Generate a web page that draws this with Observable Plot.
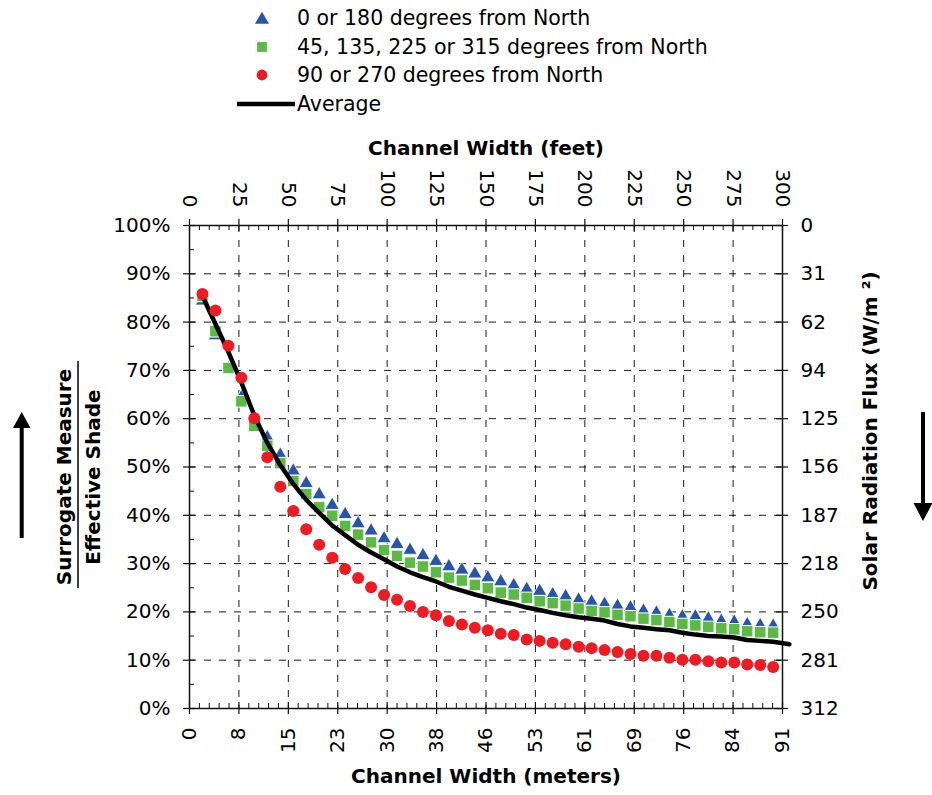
<!DOCTYPE html>
<html><head><meta charset="utf-8">
<script src="https://cdn.jsdelivr.net/npm/d3@7"></script>
<script src="https://cdn.jsdelivr.net/npm/@observablehq/plot@0.6"></script>
<style>
html,body{margin:0;padding:0;background:#fff;}
body{width:932px;height:795px;overflow:hidden;font-family:"DejaVu Sans",sans-serif;color:#000;}
#wrap{position:relative;width:932px;height:795px;}
#legend{position:relative;height:120px;width:932px;}
.row{position:absolute;left:0;height:28px;width:932px;}
.row svg{position:absolute;left:232px;top:0;overflow:visible;}
.row span{position:absolute;left:297px;top:0;line-height:28px;font-size:20.5px;white-space:nowrap;}
#deco{position:absolute;left:0;top:0;pointer-events:none;}
</style></head><body>
<div id="wrap"><div id="legend"></div><div id="chart"></div><svg id="deco" width="932" height="795"></svg></div>
<script>
// ---- data ----
const widthMeters = [2,4,6,8,10,12,14,16,18,20,22,24,26,28,30,32,34,36,38,40,42,44,46,48,50,52,54,56,58,60,62,64,66,68,70,72,74,76,78,80,82,84,86,88,90];
const shade0or180 = [84.8,77.6,70.8,64.8,60.7,56.5,52.9,49.6,47.0,44.7,42.5,40.6,38.7,37.2,35.6,34.4,33.2,32.1,30.9,29.8,29.1,28.3,27.5,26.7,25.9,25.1,24.7,24.0,23.6,22.9,22.5,22.0,21.6,21.3,20.6,20.2,19.7,19.4,19.4,19.0,18.5,18.3,17.8,17.6,17.5];
const shade45diag = [85.4,78.1,70.5,63.6,58.5,54.4,50.8,47.1,44.4,41.7,39.9,37.8,36.0,34.4,32.8,31.6,30.2,29.4,28.2,27.1,26.5,25.6,24.9,24.0,23.6,22.9,22.2,21.8,21.3,20.7,20.2,19.9,19.4,19.1,18.6,18.3,17.9,17.5,17.2,16.9,16.6,16.4,16.0,15.8,15.7];
const shade90or270 = [85.8,82.4,75.1,68.5,60.1,52.0,45.9,40.9,37.1,33.9,31.2,28.9,27.0,25.1,23.5,22.5,21.2,20.0,19.3,18.1,17.4,16.7,16.2,15.5,15.2,14.3,14.0,13.6,13.3,12.8,12.5,12.1,11.7,11.3,10.9,10.9,10.5,10.1,10.1,9.8,9.5,9.5,9.1,9.0,8.6];
const avgWidthMeters = [2,4,6,8,10,12,14,16,18,20,22,24,26,28,30,32,34,36,38,40,42,44,46,48,50,52,54,56,58,60,62,64,66,68,70,72,74,76,78,80,82,84,86,88,90,92.5];
const shadeAverage = [85.4,79.6,73.8,67.5,60.6,55.0,50.4,46.5,43.2,40.5,37.9,35.9,33.9,32.3,30.9,29.4,28.2,27.2,26.3,25.2,24.4,23.6,22.9,22.2,21.6,20.9,20.4,19.8,19.3,18.9,18.6,18.2,17.5,17.0,16.7,16.4,16.2,15.7,15.3,15.0,14.9,14.7,14.2,14.0,13.8,13.3];

const seriesNames = ["0 or 180 degrees from North","45, 135, 225 or 315 degrees from North","90 or 270 degrees from North","Average"];
const seriesColors = ["#2A54A6","#5DB946","#ED1C24","#000000"];

const feetTicks = [0,25,50,75,100,125,150,175,200,225,250,275,300];
const meterTickLabels = ["0","8","15","23","30","38","46","53","61","69","76","84","91"];
const percentTicks = [0,10,20,30,40,50,60,70,80,90,100];
const fluxTickLabels = ["312","281","250","218","187","156","125","94","62","31","0"];

// ---- build ----
const FT = 0.3048;
const majorM = feetTicks.map(f => f * FT);
const minorM = d3.range(0, 301, 5).filter(f => f % 25 !== 0).map(f => f * FT);
const minorPct = d3.range(5, 100, 10);

const blueData = widthMeters.map((m, i) => ({m, v: shade0or180[i]}));
const greenData = widthMeters.map((m, i) => ({m, v: shade45diag[i]}));
const redData = widthMeters.map((m, i) => ({m, v: shade90or270[i]}));
const avgData = avgWidthMeters.map((m, i) => ({m, v: shadeAverage[i]}));

const W = 932, H = 675, mT = 105, mB = 87, mL = 189, mR = 150;
const fw = W - mL - mR, fh = H - mT - mB;
const grid = {stroke: "#000", strokeOpacity: 0.9, strokeWidth: 1, strokeDasharray: "7,8"};
const titleStyle = {fontWeight: "bold", fontSize: 20, text: d => d, fill: "#000", textAnchor: "middle", lineAnchor: "middle"};

const chart = Plot.plot({
  width: W, height: H,
  marginTop: mT, marginBottom: mB, marginLeft: mL, marginRight: mR,
  x: {domain: [0, 300 * FT]},
  y: {domain: [0, 100]},
  style: {fontFamily: "DejaVu Sans, sans-serif", fontSize: "20px", color: "#000", background: "#fff", overflow: "visible"},
  marks: [
    Plot.gridX({ticks: majorM.slice(1, -1), ...grid}),
    Plot.gridY({ticks: percentTicks.slice(1, -1), ...grid}),
    Plot.dot(blueData, {x: "m", y: "v", symbol: "triangle", r: 5.3, dy: 2, fill: seriesColors[0], stroke: "#fff", strokeWidth: 0.8}),
    Plot.dot(greenData, {x: "m", y: "v", symbol: "square", r: 6.5, fill: seriesColors[1], stroke: "#fff", strokeWidth: 1}),
    Plot.line(avgData, {x: "m", y: "v", stroke: seriesColors[3], strokeWidth: 4.5}),
    Plot.dot(redData, {x: "m", y: "v", r: 6, fill: seriesColors[2], stroke: "none"}),
    Plot.frame({stroke: "#111", strokeWidth: 1.5}),
    // major crossing ticks and minor inside ticks
    Plot.ruleX(majorM, {insetTop: fh - 6, insetBottom: -6, stroke: "#111", strokeWidth: 1.2}),
    Plot.ruleX(majorM, {insetBottom: fh - 6, insetTop: -6, stroke: "#111", strokeWidth: 1.2}),
    Plot.ruleX(minorM, {insetTop: fh - 5, stroke: "#111", strokeWidth: 1}),
    Plot.ruleX(minorM, {insetBottom: fh - 5, stroke: "#111", strokeWidth: 1}),
    Plot.ruleY(percentTicks, {insetRight: fw - 6, insetLeft: -6, stroke: "#111", strokeWidth: 1.2}),
    Plot.ruleY(minorPct, {insetRight: fw - 5, stroke: "#111", strokeWidth: 1}),
    Plot.ruleY(percentTicks, {insetLeft: fw - 6, insetRight: -6, stroke: "#111", strokeWidth: 1.2}),
    // tick labels
    Plot.axisX({anchor: "bottom", ticks: majorM, tickSize: 0, tickPadding: 19, tickRotate: -90, textAnchor: "end", lineAnchor: "middle",
      tickFormat: d => meterTickLabels[majorM.indexOf(d)], label: null, fill: "#000"}),
    Plot.axisX({anchor: "top", ticks: majorM, tickSize: 0, tickPadding: 18, tickRotate: 90, textAnchor: "end", lineAnchor: "middle",
      tickFormat: d => String(feetTicks[majorM.indexOf(d)]), label: null, fill: "#000"}),
    Plot.axisY({anchor: "left", ticks: percentTicks, tickSize: 0, tickPadding: 19,
      tickFormat: d => d + "%", label: null, fill: "#000"}),
    Plot.axisY({anchor: "right", ticks: percentTicks, tickSize: 0, tickPadding: 18,
      tickFormat: d => fluxTickLabels[percentTicks.indexOf(d)], label: null, fill: "#000"}),
    // axis titles
    Plot.text(["Channel Width (feet)"], {frameAnchor: "top", dy: -77, ...titleStyle}),
    Plot.text(["Channel Width (meters)"], {frameAnchor: "bottom", dy: 68, ...titleStyle}),
    Plot.text(["Surrogate Measure"], {frameAnchor: "left", dx: -125, dy: 10, rotate: -90, ...titleStyle}),
    Plot.text(["Effective Shade"], {frameAnchor: "left", dx: -96, dy: 10, rotate: -90, ...titleStyle}),
    Plot.text(["Solar Radiation Flux (W/m \u00B2)"], {frameAnchor: "right", dx: 88, dy: -36, rotate: -90, ...titleStyle})
  ]
});
document.getElementById("chart").appendChild(chart);

// ---- legend ----
const legend = d3.select("#legend");
const rowCenters = [18, 47, 75, 104];
const symbols = [d3.symbolTriangle, d3.symbolSquare, d3.symbolCircle, null];
const symSizes = [Math.PI * 5.2 * 5.2, Math.PI * 6.2 * 6.2 * 0.8, Math.PI * 5.4 * 5.4, 0];
seriesNames.forEach((name, i) => {
  const row = legend.append("div").attr("class", "row").style("top", (rowCenters[i] - 14) + "px");
  const svg = row.append("svg").attr("width", 62).attr("height", 28);
  if (symbols[i]) {
    svg.append("path")
      .attr("d", d3.symbol(symbols[i], symSizes[i])())
      .attr("transform", `translate(30,${i === 0 ? 15.8 : 14})`)
      .attr("fill", seriesColors[i]);
  } else {
    svg.append("line").attr("x1", 5).attr("x2", 63).attr("y1", 14).attr("y2", 14)
      .attr("stroke", seriesColors[i]).attr("stroke-width", 4.5);
  }
  row.append("span").text(name);
});

// ---- decorations: direction arrows and fraction bar ----
const deco = d3.select("#deco");
deco.append("line").attr("x1", 78).attr("x2", 78).attr("y1", 361).attr("y2", 588).attr("stroke", "#000").attr("stroke-width", 1.5);
deco.append("line").attr("x1", 21.7).attr("x2", 21.7).attr("y1", 538).attr("y2", 426).attr("stroke", "#000").attr("stroke-width", 4);
deco.append("path").attr("d", "M13,428L30.5,428L21.7,412Z").attr("fill", "#000");
deco.append("line").attr("x1", 923).attr("x2", 923).attr("y1", 412).attr("y2", 505).attr("stroke", "#000").attr("stroke-width", 4);
deco.append("path").attr("d", "M913.5,503L932.5,503L923,521Z").attr("fill", "#000");
</script>
</body></html>
